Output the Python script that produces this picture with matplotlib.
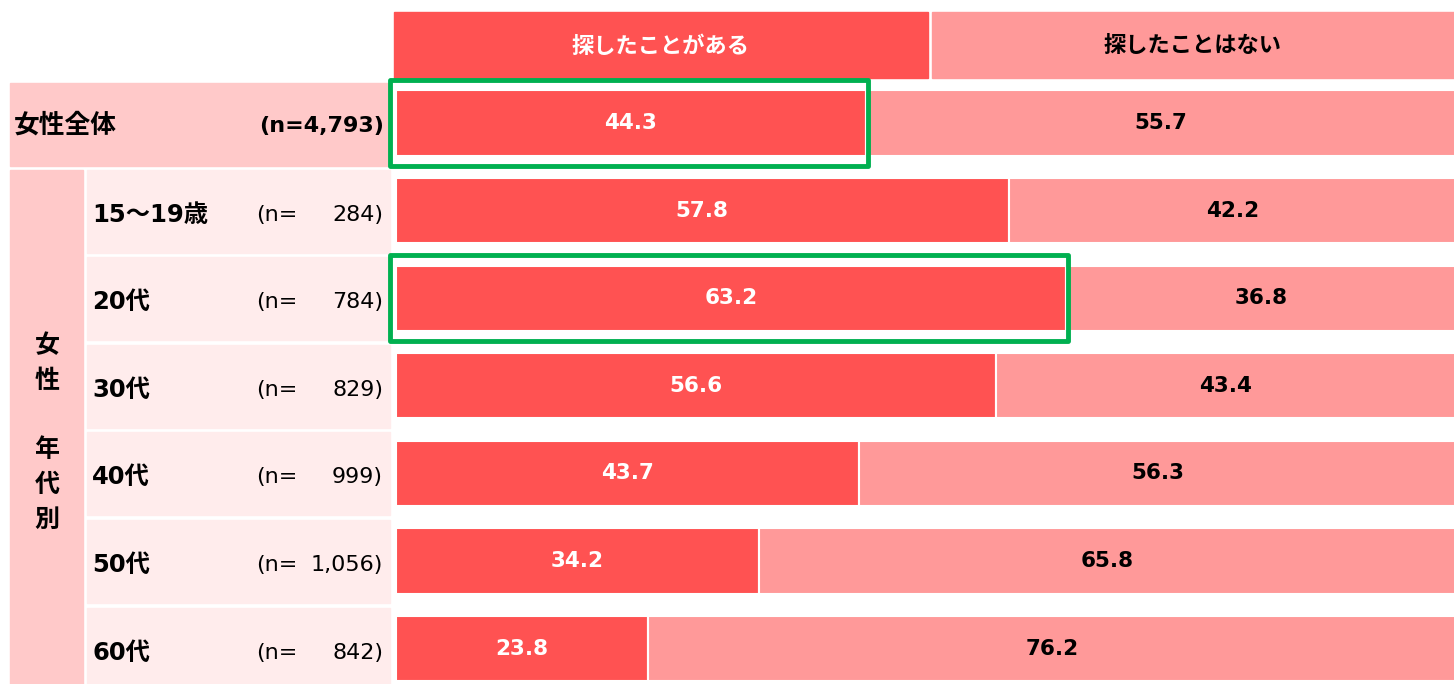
import matplotlib.pyplot as plt
from matplotlib.patches import Rectangle

plt.rcParams['font.family'] = ['DejaVu Sans', 'Noto Sans CJK JP']

# data
header = ["探したことがある", "探したことはない"]
groups = ["女性全体", "15～19歳", "20代", "30代", "40代", "50代", "60代"]
n_labels = ["4,793", "284", "784", "829", "999", "1,056", "842"]
yes = [44.3, 57.8, 63.2, 56.6, 43.7, 34.2, 23.8]
no = [55.7, 42.2, 36.8, 43.4, 56.3, 65.8, 76.2]
highlight = [0, 2]

c_dark = "#FF5252"
c_light = "#FF9999"
c_bg1 = "#FFC9C9"
c_bg2 = "#FFECEC"
c_green = "#00B050"

W, H = 1454, 684
fig = plt.figure(figsize=(W / 100, H / 100), dpi=100)

# background / layout axes in pixel units
bg = fig.add_axes([0, 0, 1, 1])
bg.set_xlim(0, W)
bg.set_ylim(H, 0)
bg.axis("off")

fs = 16
# header cells
bg.add_patch(Rectangle((394, 12), 534, 66, color=c_dark))
bg.add_patch(Rectangle((932, 12), 522, 66, color=c_light))
bg.text(661, 46, header[0], color="white", fontsize=fs, fontweight="bold", ha="center", va="center")
bg.text(1193, 46, header[1], color="black", fontsize=fs, fontweight="bold", ha="center", va="center")

# left label area
x0, pitch = 123, 87.6
bg.add_patch(Rectangle((10, 83), 380, 83, color=c_bg1))
bg.add_patch(Rectangle((10, 170), 73, 514, color=c_bg1))
for i in range(1, len(groups)):
    cy = x0 + pitch * i
    bg.add_patch(Rectangle((87, cy - 41), 303, 83, color=c_bg2))

bg.text(14, x0 + 3, groups[0], fontsize=18.5, fontweight="bold", ha="left", va="center")
bg.text(384, x0 + 3, "(n=" + n_labels[0] + ")", fontsize=fs, fontweight="bold", ha="right", va="center")
for i in range(1, len(groups)):
    cy = x0 + pitch * i + 4
    bg.text(92, cy, groups[i], fontsize=17.5, fontweight="bold", ha="left", va="center")
    bg.text(256, cy, "(n=", fontsize=fs, ha="left", va="center")
    bg.text(383, cy, n_labels[i] + ")", fontsize=fs, ha="right", va="center")

for ch, cy in zip("女性年代別", [346, 381, 450, 485, 520]):
    bg.text(47, cy, ch, fontsize=18, fontweight="bold", ha="center", va="center")

# bar axes
ax = fig.add_axes([396 / W, 0, 1060 / W, 1])
ax.set_xlim(0, 100)
ax.set_ylim((H - x0) / pitch, -x0 / pitch)
ax.axis("off")
ax.patch.set_alpha(0)

ypos = list(range(len(groups)))
bh = 0.745
ax.barh(ypos, yes, height=bh, color=c_dark, edgecolor="white", linewidth=1.5)
ax.barh(ypos, no, left=yes, height=bh, color=c_light, edgecolor="white", linewidth=1.5)

for y, a, b in zip(ypos, yes, no):
    ax.text(a / 2, y, f"{a:.1f}", color="white", fontsize=15.5, fontweight="bold", ha="center", va="center")
    ax.text(a + b / 2, y, f"{b:.1f}", color="black", fontsize=15.5, fontweight="bold", ha="center", va="center")

for i in highlight:
    ax.add_patch(Rectangle((-0.55, i - 0.49), yes[i] + 0.75, 0.98, fill=False,
                           edgecolor=c_green, linewidth=3.5, clip_on=False, joinstyle="round"))

fig.savefig("out.png", dpi=100)
